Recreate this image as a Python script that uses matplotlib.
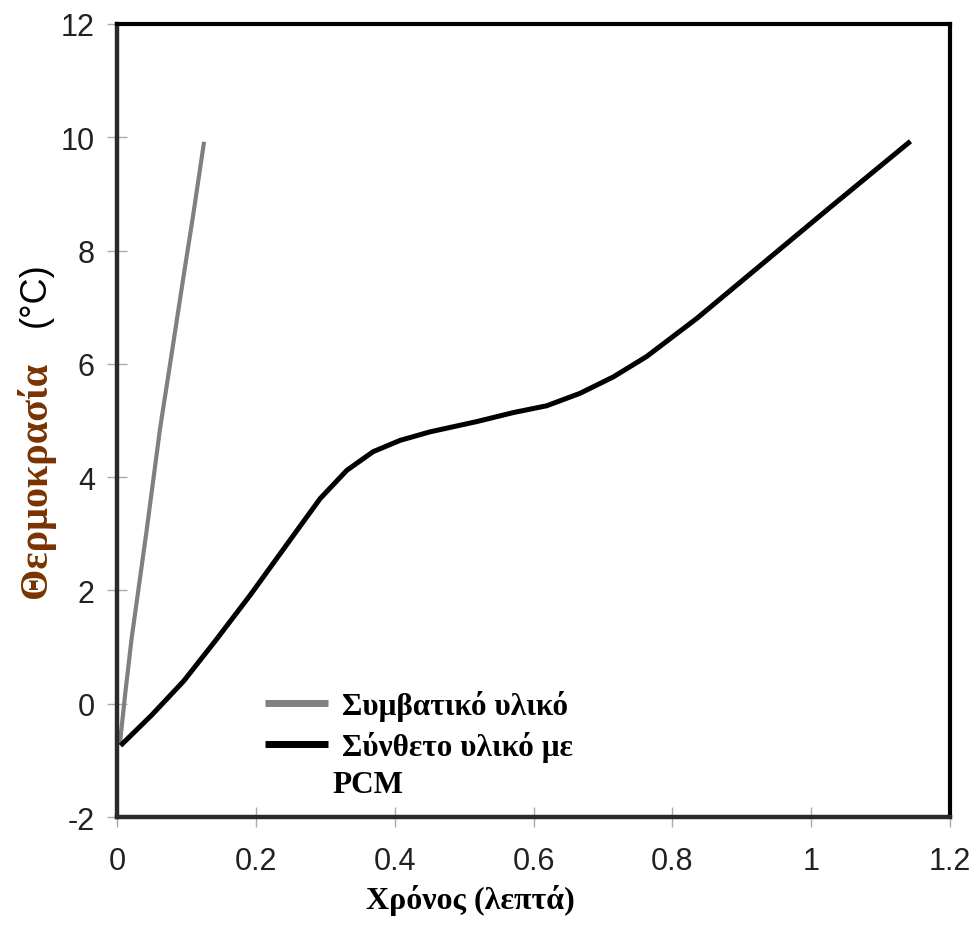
import matplotlib
matplotlib.use("Agg")
import matplotlib.pyplot as plt

# Conventional material
conv_time = [0.004, 0.012, 0.021, 0.042, 0.062, 0.079, 0.094, 0.110, 0.1254]
conv_temp = [-0.72, 0.20, 1.15, 3.00, 4.86, 6.20, 7.40, 8.65, 9.92]

# Composite material with PCM
pcm_time = [0.005, 0.050, 0.096, 0.141, 0.192, 0.254, 0.2925, 0.331, 0.369,
            0.408, 0.451, 0.518, 0.571, 0.619, 0.667, 0.715, 0.763, 0.835,
            0.931, 1.027, 1.143]
pcm_temp = [-0.74, -0.20, 0.40, 1.10, 1.92, 2.97, 3.62, 4.12, 4.45,
            4.65, 4.80, 4.98, 5.14, 5.26, 5.48, 5.77, 6.13, 6.80,
            7.78, 8.76, 9.93]

x_ticks = [0, 0.2, 0.4, 0.6, 0.8, 1, 1.2]
x_tick_labels = ["0", "0.2", "0.4", "0.6", "0.8", "1", "1.2"]
y_ticks = [-2, 0, 2, 4, 6, 8, 10, 12]
y_tick_labels = ["-2", "0", "2", "4", "6", "8", "10", "12"]

label_conv = "Συμβατικό υλικό"
label_pcm = "Σύνθετο υλικό με"
label_pcm_2 = "PCM"
x_label = "Χρόνος (λεπτά)"
y_label = "Θερμοκρασία"
y_unit = "(°C)"

serif_bold = {"family": "Liberation Serif", "weight": "bold"}

fig = plt.figure(figsize=(9.76, 9.28), dpi=100)
ax = fig.add_axes([0.1199, 0.1185, 0.8535, 0.8546])

ax.plot(conv_time, conv_temp, color="#808080", lw=3.0,
        solid_capstyle="butt", solid_joinstyle="round", label=label_conv)
ax.plot(pcm_time, pcm_temp, color="black", lw=3.6,
        solid_capstyle="butt", solid_joinstyle="round", label=label_pcm)

ax.set_xlim(0, 1.2)
ax.set_ylim(-2, 12)
ax.set_xticks(x_ticks)
ax.set_xticklabels(x_tick_labels)
ax.set_yticks(y_ticks)
ax.set_yticklabels(y_tick_labels)
ax.tick_params(direction="inout", length=14, width=1.0, color="#aaaaaa",
               labelsize=22, labelcolor="#222222")
ax.tick_params(axis="x", pad=14)
ax.tick_params(axis="y", pad=9)
for lab in ax.get_xticklabels() + ax.get_yticklabels():
    lab.set_family("Liberation Sans")

for side in ["left", "bottom"]:
    ax.spines[side].set_linewidth(3.2)
    ax.spines[side].set_color("#2a2a2a")
for side in ["top", "right"]:
    ax.spines[side].set_linewidth(3.0)
    ax.spines[side].set_color("black")

leg = ax.legend(loc="upper left", bbox_to_anchor=(0.178, 0.160),
                frameon=False, borderpad=0, borderaxespad=0,
                handlelength=2.0, handletextpad=0.45,
                labelspacing=0.3, prop={**serif_bold, "size": 22.5})
for h in leg.legend_handles:
    h.set_linewidth(5)
ax.text(0.259, 0.0416, label_pcm_2, transform=ax.transAxes,
        fontsize=22.5, va="center", ha="left", **serif_bold)

fig.text(0.482, 0.030, x_label, ha="center", va="center",
         fontsize=23, **serif_bold)
fig.text(0.036, 0.483, y_label, rotation=90, ha="center", va="center",
         fontsize=29, color="#7a3300", **serif_bold)
fig.text(0.036, 0.682, y_unit, rotation=90, ha="center", va="center",
         fontsize=26, family="Liberation Sans")

fig.savefig("out.png", dpi=100)
